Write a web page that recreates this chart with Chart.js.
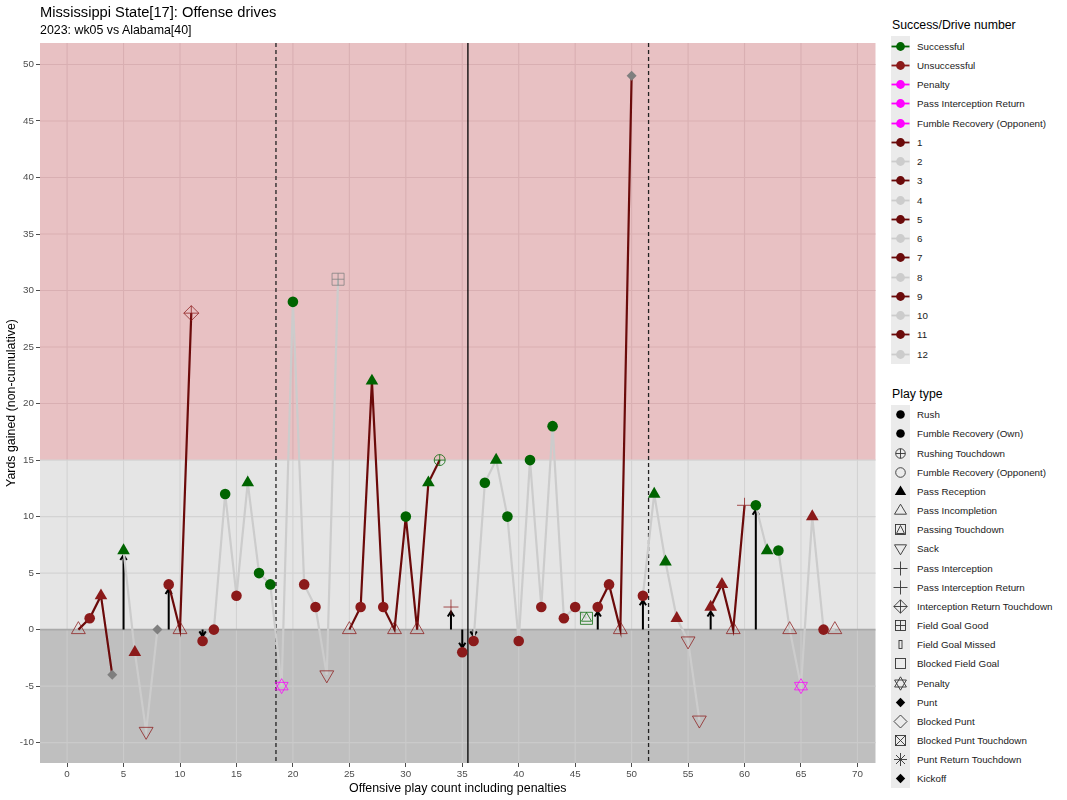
<!DOCTYPE html>
<html>
<head>
<meta charset="utf-8">
<title>Mississippi State offense drives</title>
<script src="https://cdn.jsdelivr.net/npm/chart.js@4.4.1/dist/chart.umd.min.js"></script>
<style>
    body { margin: 0; background: #fff; font-family: "Liberation Sans", Arial, sans-serif; }
    #wrap { position: relative; width: 1067px; height: 800px; overflow: hidden; }
    #chart { position: absolute; left: 0; top: 0; }
    .title { position: absolute; left: 40px; top: 4px; font-size: 14.7px; color: #000; white-space: nowrap; }
    .subtitle { position: absolute; left: 40px; top: 23px; font-size: 12.4px; color: #000; white-space: nowrap; }
    .lg-title { position: absolute; left: 892px; font-size: 12.3px; color: #000; white-space: nowrap; }
    .lg-keys { position: absolute; left: 891px; width: 19px; background: #EBEBEB; }
    .lg-row { position: absolute; left: 891px; height: 19px; display: flex; align-items: center; font-size: 9.8px; color: #1a1a1a; white-space: nowrap; }
    .lg-row svg { width: 19px; height: 19px; flex: none; }
    .lg-row span { margin-left: 7px; }
</style>
</head>
<body>
<div id="wrap">
    <canvas id="chart" width="885" height="800"></canvas>
    <div class="title">Mississippi State[17]: Offense drives</div>
    <div class="subtitle">2023: wk05 vs Alabama[40]</div>
    <div id="legend"></div>
</div>
<script>
// play-by-play values
const plays = [1, 2, 3, 4, 5, 6, 7, 8, 9, 10,
    11, 12, 13, 14, 15, 16, 17, 18, 19, 20,
    21, 22, 23, 24, 25, 26, 27, 28, 29, 30,
    31, 32, 33, 34, 35, 36, 37, 38, 39, 40,
    41, 42, 43, 44, 45, 46, 47, 48, 49, 50,
    51, 52, 53, 54, 55, 56, 57, 58, 59, 60,
    61, 62, 63, 64, 65, 66, 67, 68];
const yards = [0, 1, 3, -4, 7, -2, -9, 0, 4, 0,
    28, -1, 0, 12, 3, 13, 5, 4, -5, 29,
    4, 2, -4, 31, 0, 2, 22, 2, 0, 10,
    0, 13, 15, 2, -2, -1, 13, 15, 10, -1,
    15, 2, 18, 1, 2, 1, 2, 4, 0, 49,
    3, 12, 6, 1, -1, -8, 2, 4, 0, 11,
    11, 7, 7, 0, -5, 10, 0, 0];
const playType = [
    'Pass Incompletion', 'Rush', 'Pass Reception', 'Punt', 'Pass Reception',
    'Pass Reception', 'Sack', 'Punt', 'Rush', 'Pass Incompletion',
    'Interception Return Touchdown', 'Rush', 'Rush', 'Rush', 'Rush',
    'Pass Reception', 'Rush', 'Rush', 'Penalty', 'Rush',
    'Rush', 'Rush', 'Sack', 'Field Goal Good', 'Pass Incompletion',
    'Rush', 'Pass Reception', 'Rush', 'Pass Incompletion', 'Rush',
    'Pass Incompletion', 'Pass Reception', 'Rushing Touchdown', 'Pass Interception', 'Rush',
    'Rush', 'Rush', 'Pass Reception', 'Rush', 'Rush',
    'Rush', 'Rush', 'Rush', 'Rush', 'Rush',
    'Passing Touchdown', 'Rush', 'Rush', 'Pass Incompletion', 'Punt',
    'Rush', 'Pass Reception', 'Pass Reception', 'Pass Reception', 'Sack',
    'Sack', 'Pass Reception', 'Pass Reception', 'Pass Incompletion', 'Pass Interception',
    'Rush', 'Pass Reception', 'Rush', 'Pass Incompletion', 'Penalty',
    'Pass Reception', 'Rush', 'Pass Incompletion'
];
// S = successful, U = unsuccessful, P = penalty, N = kick
const outcome = ['U', 'U', 'U', 'N', 'S', 'U', 'U', 'N', 'U', 'U',
    'U', 'U', 'U', 'S', 'U', 'S', 'S', 'S', 'P', 'S',
    'U', 'U', 'U', 'N', 'U', 'U', 'S', 'U', 'U', 'S',
    'U', 'S', 'S', 'U', 'U', 'U', 'S', 'S', 'S', 'U',
    'S', 'U', 'S', 'U', 'U', 'S', 'U', 'U', 'U', 'N',
    'U', 'S', 'S', 'U', 'U', 'U', 'U', 'U', 'U', 'U',
    'S', 'S', 'S', 'U', 'P', 'U', 'U', 'U'];
const driveStarts = [1, 5, 9, 12, 25, 34, 35, 36, 47, 51, 57, 61];

const xTicks = [0, 5, 10, 15, 20, 25, 30, 35, 40, 45, 50, 55, 60, 65, 70];
const yTicks = [-10, -5, 0, 5, 10, 15, 20, 25, 30, 35, 40, 45, 50];
const bandBreaks = [0, 15];
const quarterBreaks = [18.5, 51.5];
const halfBreaks = [35.5];

const successLegend = ['Successful', 'Unsuccessful', 'Penalty', 'Pass Interception Return', 'Fumble Recovery (Opponent)'];
const driveLegend = ['1', '2', '3', '4', '5', '6', '7', '8', '9', '10', '11', '12'];
const playTypeLegend = ['Rush', 'Fumble Recovery (Own)', 'Rushing Touchdown', 'Fumble Recovery (Opponent)',
    'Pass Reception', 'Pass Incompletion', 'Passing Touchdown', 'Sack', 'Pass Interception',
    'Pass Interception Return', 'Interception Return Touchdown', 'Field Goal Good', 'Field Goal Missed',
    'Blocked Field Goal', 'Penalty', 'Punt', 'Blocked Punt', 'Blocked Punt Touchdown',
    'Punt Return Touchdown', 'Kickoff'];

const outcomeColor = { S: '#006400', U: '#8B1A1A', P: '#FF00FF', N: '#7F7F7F' };
const oddDrive = '#6B0A0A';
const evenDrive = '#CCCCCC';

function fade(hex, a) {
    const n = parseInt(hex.slice(1), 16);
    return `rgba(${n >> 16},${(n >> 8) & 255},${n & 255},${a})`;
}

// marker layers per play type (built-in point styles, stacked where needed)
const markerLayers = {
    'Rush': [{ style: 'circle', r: 5.3, fill: true }],
    'Pass Reception': [{ style: 'triangle', r: 7.3, fill: true }],
    'Pass Incompletion': [{ style: 'triangle', r: 8, fill: false }],
    'Sack': [{ style: 'triangle', r: 8, rot: 180, fill: false }],
    'Punt': [{ style: 'rectRot', r: 5, fill: true }],
    'Pass Interception': [{ style: 'cross', r: 7.5, fill: false }],
    'Interception Return Touchdown': [{ style: 'rectRot', r: 7.5, fill: false }, { style: 'cross', r: 7.5, fill: false }],
    'Rushing Touchdown': [{ style: 'circle', r: 5.5, fill: false }, { style: 'cross', r: 5.5, fill: false }],
    'Field Goal Good': [{ style: 'rect', r: 8.5, fill: false }, { style: 'cross', r: 6, fill: false }],
    'Passing Touchdown': [{ style: 'rect', r: 8.5, fill: false }, { style: 'triangle', r: 5.8, fill: false }],
    'Penalty': [{ style: 'triangle', r: 7.5, fill: false }, { style: 'triangle', r: 7.5, rot: 180, fill: false }]
};

// drive lines
const driveDatasets = driveStarts.map((start, d) => {
    const end = d + 1 < driveStarts.length ? driveStarts[d + 1] - 1 : plays[plays.length - 1];
    const pts = plays.map((p, i) => ({ x: p, y: yards[i] })).filter(pt => pt.x >= start && pt.x <= end);
    return {
        data: pts,
        showLine: true,
        borderColor: d % 2 === 0 ? oddDrive : evenDrive,
        borderWidth: 2.2,
        pointRadius: 0,
        order: 10
    };
});

// markers
const markerDatasets = [];
Object.keys(markerLayers).forEach(type => {
    const idx = plays.map((p, i) => i).filter(i => playType[i] === type);
    if (!idx.length) return;
    markerLayers[type].forEach(layer => {
        markerDatasets.push({
            data: idx.map(i => ({ x: plays[i], y: yards[i] })),
            showLine: false,
            pointStyle: layer.style,
            pointRadius: layer.r,
            pointRotation: layer.rot || 0,
            pointBackgroundColor: idx.map(i => layer.fill ? outcomeColor[outcome[i]] : 'rgba(0,0,0,0)'),
            pointBorderColor: idx.map(i => layer.fill ? outcomeColor[outcome[i]] : fade(outcomeColor[outcome[i]], 0.75)),
            pointBorderWidth: layer.fill ? 0 : 1,
            order: 1
        });
    });
});

// panel background, grid, period lines and drive-start arrows
const panelPlugin = {
    id: 'panel',
    beforeDatasetsDraw(chart) {
        const { ctx, chartArea: a, scales: { x, y } } = chart;
        const y0 = y.getPixelForValue(bandBreaks[0]);
        const y15 = y.getPixelForValue(bandBreaks[1]);
        ctx.save();
        ctx.fillStyle = '#E8C1C3';
        ctx.fillRect(a.left, a.top, a.right - a.left, y15 - a.top);
        ctx.fillStyle = '#E5E5E5';
        ctx.fillRect(a.left, y15, a.right - a.left, y0 - y15);
        ctx.fillStyle = '#BFBFBF';
        ctx.fillRect(a.left, y0, a.right - a.left, a.bottom - y0);

        const bands = [
            { top: a.top, bottom: y15, color: '#D9AFB2' },
            { top: y15, bottom: y0, color: '#D3D3D3' },
            { top: y0, bottom: a.bottom, color: '#CACACA' }
        ];
        ctx.lineWidth = 1.1;
        xTicks.forEach(v => {
            const px = x.getPixelForValue(v);
            bands.forEach(b => {
                ctx.strokeStyle = b.color;
                ctx.beginPath();
                ctx.moveTo(px, b.top);
                ctx.lineTo(px, b.bottom);
                ctx.stroke();
            });
        });
        yTicks.forEach(v => {
            const py = y.getPixelForValue(v);
            ctx.strokeStyle = v > bandBreaks[1] ? bands[0].color : (v > bandBreaks[0] ? bands[1].color : bands[2].color);
            if (v === bandBreaks[0]) { ctx.strokeStyle = '#A9A9A9'; ctx.lineWidth = 1.6; }
            ctx.beginPath();
            ctx.moveTo(a.left, py);
            ctx.lineTo(a.right, py);
            ctx.stroke();
            ctx.lineWidth = 1.1;
        });

        ctx.strokeStyle = '#222';
        ctx.lineWidth = 1.3;
        ctx.setLineDash([4, 3]);
        quarterBreaks.forEach(v => {
            const px = x.getPixelForValue(v);
            ctx.beginPath();
            ctx.moveTo(px, a.top);
            ctx.lineTo(px, a.bottom);
            ctx.stroke();
        });
        ctx.setLineDash([]);
        ctx.strokeStyle = '#000';
        halfBreaks.forEach(v => {
            const px = x.getPixelForValue(v);
            ctx.beginPath();
            ctx.moveTo(px, a.top);
            ctx.lineTo(px, a.bottom);
            ctx.stroke();
        });

        // arrows from the line of scrimmage at the first play of each drive
        ctx.strokeStyle = '#000';
        ctx.lineWidth = 2;
        driveStarts.forEach(p => {
            const v = yards[plays.indexOf(p)];
            if (!v) return;
            const px = x.getPixelForValue(p);
            const from = y.getPixelForValue(0);
            const to = y.getPixelForValue(v - Math.sign(v) * 0.4);
            const dir = Math.sign(to - from);
            ctx.beginPath();
            ctx.moveTo(px, from);
            ctx.lineTo(px, to);
            ctx.moveTo(px - 3.2, to - dir * 5);
            ctx.lineTo(px, to);
            ctx.lineTo(px + 3.2, to - dir * 5);
            ctx.stroke();
        });
        ctx.restore();
    }
};

const tickFont = { family: '"Liberation Sans", Arial, sans-serif', size: 9.8 };
const titleFont = { family: '"Liberation Sans", Arial, sans-serif', size: 12.4 };

new Chart(document.getElementById('chart'), {
    type: 'scatter',
    data: { datasets: markerDatasets.concat(driveDatasets) },
    options: {
        responsive: false,
        animation: false,
        events: [],
        layout: { padding: { top: 43, right: 9, left: 0, bottom: 0 } },
        plugins: {
            legend: { display: false },
            tooltip: { enabled: false },
            title: { display: false }
        },
        scales: {
            x: {
                type: 'linear',
                min: -2.4,
                max: 71.6,
                afterBuildTicks: s => { s.ticks = xTicks.map(v => ({ value: v })); },
                afterFit: s => { s.height = 37; },
                grid: { color: 'rgba(0,0,0,0)', tickColor: '#4D4D4D', tickLength: 4, drawTicks: true },
                border: { display: false },
                ticks: { color: '#4D4D4D', font: tickFont, padding: 1, maxRotation: 0, autoSkip: false },
                title: { display: true, text: 'Offensive play count including penalties', color: '#000', font: titleFont, padding: { top: 0, bottom: 4 } }
            },
            y: {
                type: 'linear',
                min: -11.8,
                max: 51.9,
                afterBuildTicks: s => { s.ticks = yTicks.map(v => ({ value: v })); },
                afterFit: s => { s.width = 40; },
                grid: { color: 'rgba(0,0,0,0)', tickColor: '#4D4D4D', tickLength: 4, drawTicks: true },
                border: { display: false },
                ticks: { color: '#4D4D4D', font: tickFont, padding: 2, autoSkip: false },
                title: { display: true, text: 'Yards gained (non-cumulative)', color: '#000', font: titleFont, padding: { top: 4, bottom: 0 } }
            }
        }
    },
    plugins: [panelPlugin]
});

// ---- legends (html) ----
function dotKey(color) {
    return `<svg viewBox="0 0 19 19"><line x1="0.5" y1="9.5" x2="18.5" y2="9.5" stroke="${color}" stroke-width="1.8"/>` +
        `<circle cx="9.5" cy="9.5" r="4.4" fill="${color}"/></svg>`;
}

const K = 'stroke="#333" stroke-width="0.9" fill="none"';
const playKeys = {
    'Rush': '<circle cx="9.5" cy="9.5" r="4.3" fill="#000"/>',
    'Fumble Recovery (Own)': '<circle cx="9.5" cy="9.5" r="4.3" fill="#000"/>',
    'Rushing Touchdown': `<circle cx="9.5" cy="9.5" r="4.8" ${K}/><path d="M4.7 9.5H14.3M9.5 4.7V14.3" ${K}/>`,
    'Fumble Recovery (Opponent)': `<circle cx="9.5" cy="9.5" r="4.8" ${K}/>`,
    'Pass Reception': '<polygon points="9.5,3.5 3.8,13 15.2,13" fill="#000"/>',
    'Pass Incompletion': `<polygon points="9.5,3.2 3.5,13.2 15.5,13.2" ${K}/>`,
    'Passing Touchdown': `<rect x="4.5" y="4.5" width="10" height="10" ${K}/><polygon points="9.5,5.5 5.5,13.5 13.5,13.5" ${K}/>`,
    'Sack': `<polygon points="9.5,15.8 3.5,5.8 15.5,5.8" ${K}/>`,
    'Pass Interception': `<path d="M2.5 9.5H16.5M9.5 2.5V16.5" ${K}/>`,
    'Pass Interception Return': `<path d="M2.5 9.5H16.5M9.5 2.5V16.5" ${K}/>`,
    'Interception Return Touchdown': `<polygon points="9.5,2.8 16.2,9.5 9.5,16.2 2.8,9.5" ${K}/><path d="M2.8 9.5H16.2M9.5 2.8V16.2" ${K}/>`,
    'Field Goal Good': `<rect x="4.5" y="4.5" width="10" height="10" ${K}/><path d="M4.5 9.5H14.5M9.5 4.5V14.5" ${K}/>`,
    'Field Goal Missed': `<rect x="8" y="5.5" width="3" height="8" ${K}/>`,
    'Blocked Field Goal': `<rect x="4.5" y="4.5" width="10" height="10" ${K}/>`,
    'Penalty': `<polygon points="9.5,2.8 3.6,13 15.4,13" ${K}/><polygon points="9.5,16.2 3.6,6 15.4,6" ${K}/>`,
    'Punt': '<polygon points="9.5,4.8 14.2,9.5 9.5,14.2 4.8,9.5" fill="#000"/>',
    'Blocked Punt': `<polygon points="9.5,3 16,9.5 9.5,16 3,9.5" ${K}/>`,
    'Blocked Punt Touchdown': `<rect x="4.5" y="4.5" width="10" height="10" ${K}/><path d="M4.5 4.5L14.5 14.5M14.5 4.5L4.5 14.5" ${K}/>`,
    'Punt Return Touchdown': `<path d="M3 9.5H16M9.5 3V16M5 5L14 14M14 5L5 14" ${K}/>`,
    'Kickoff': '<polygon points="9.5,4.8 14.2,9.5 9.5,14.2 4.8,9.5" fill="#000"/>'
};

function buildLegend() {
    const el = document.getElementById('legend');
    let html = '';
    const step1 = 19.25, first1 = 46;
    const rows1 = successLegend.map((label, i) => ({ label, color: [outcomeColor.S, outcomeColor.U, '#FF00FF', '#FF00FF', '#FF00FF'][i] }))
        .concat(driveLegend.map((label, i) => ({ label, color: i % 2 === 0 ? oddDrive : evenDrive })));
    html += `<div class="lg-title" style="top:18px">Success/Drive number</div>`;
    html += `<div class="lg-keys" style="top:${first1 - 9.6}px;height:${rows1.length * step1}px"></div>`;
    rows1.forEach((r, i) => {
        html += `<div class="lg-row" style="top:${first1 + i * step1 - 9.5}px">${dotKey(r.color)}<span>${r.label}</span></div>`;
    });

    const step2 = 19.17, first2 = 414.7;
    html += `<div class="lg-title" style="top:387px">Play type</div>`;
    html += `<div class="lg-keys" style="top:${first2 - 9.6}px;height:${playTypeLegend.length * step2}px"></div>`;
    playTypeLegend.forEach((label, i) => {
        html += `<div class="lg-row" style="top:${first2 + i * step2 - 9.5}px"><svg viewBox="0 0 19 19">${playKeys[label]}</svg><span>${label}</span></div>`;
    });
    el.innerHTML = html;
}
buildLegend();
</script>
</body>
</html>
